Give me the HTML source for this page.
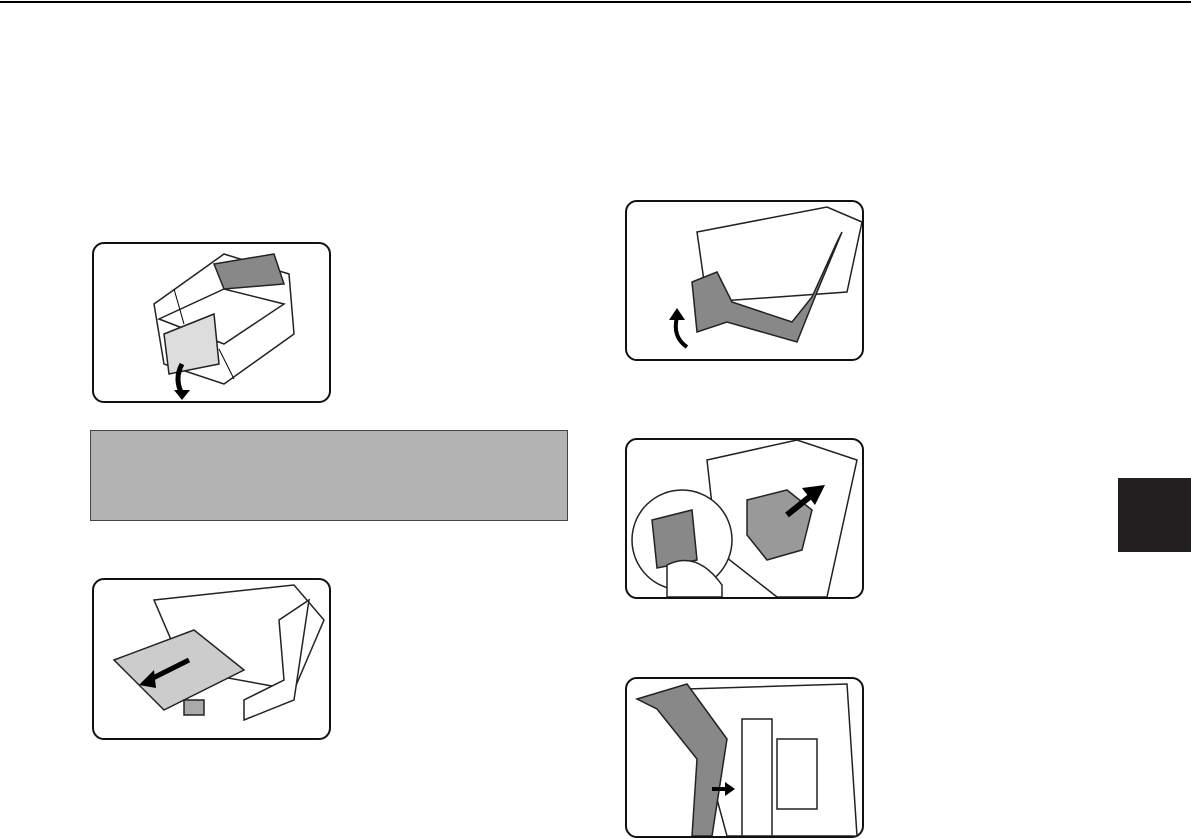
<!DOCTYPE html>
<html><head><meta charset="utf-8"><style>
html,body{margin:0;padding:0;background:#fff;width:1191px;height:839px;overflow:hidden;position:relative;font-family:"Liberation Sans",sans-serif}
.rule{position:absolute;left:0;top:1px;width:1191px;height:2px;background:#000}
.box{position:absolute;border:2px solid #111;border-radius:12px;background:#fff;overflow:hidden}
.gray{position:absolute;left:90px;top:430px;width:476px;height:89px;background:#b3b3b3;border:1px solid #444}
.tab{position:absolute;left:1118px;top:478px;width:73px;height:74px;background:#231f20}
svg{position:absolute;left:0;top:0}
</style></head><body>
<div class="rule"></div>

<div class="box" style="left:92px;top:242px;width:235px;height:157px">
<svg width="235" height="157"><g fill="#fff" stroke="#222" stroke-width="1.5">
<polygon points="60,60 130,10 195,30 200,90 130,140 70,120"/>
<polygon points="65,75 130,45 190,60 130,100"/>
<polygon points="70,90 120,70 125,120 75,130" fill="#ddd"/>
<polygon points="120,20 180,10 190,40 130,45" fill="#888"/>
</g>
<path d="M88,120 Q80,135 88,150" stroke="#000" stroke-width="5" fill="none"/>
<polygon points="80,146 96,146 88,156" fill="#000"/>
<line x1="80" y1="45" x2="90" y2="80" stroke="#000"/>
<line x1="125" y1="105" x2="140" y2="135" stroke="#000"/></svg>
</div>

<div class="gray"></div>

<div class="box" style="left:92px;top:578px;width:235px;height:158px">
<svg width="235" height="158"><g stroke="#222" stroke-width="1.5">
<polygon points="60,20 200,5 230,40 200,110 90,90" fill="#fff"/>
<polygon points="20,80 100,50 150,90 70,130" fill="#ccc"/>
<polygon points="185,40 215,20 200,120 150,140 150,120 190,100" fill="#fff"/>
<rect x="90" y="120" width="20" height="15" fill="#aaa"/>
</g>
<line x1="95" y1="80" x2="55" y2="100" stroke="#000" stroke-width="5"/>
<polygon points="45,105 60,90 62,108" fill="#000"/></svg>
</div>

<div class="box" style="left:625px;top:200px;width:235px;height:157px">
<svg width="235" height="157"><g stroke="#222" stroke-width="1.5">
<polygon points="70,30 200,5 235,20 220,90 80,100" fill="#fff"/>
<polygon points="65,80 70,130 100,120 170,140 190,90 215,30 210,40 185,95 165,120 105,100 90,70" fill="#888"/>
</g>
<path d="M60,145 Q45,135 50,115" stroke="#000" stroke-width="4" fill="none"/>
<polygon points="42,118 58,118 50,106" fill="#000"/></svg>
</div>

<div class="box" style="left:625px;top:438px;width:235px;height:157px">
<svg width="235" height="157"><g stroke="#222" stroke-width="1.5">
<polygon points="80,20 170,0 230,20 200,157 150,157 90,110" fill="#fff"/>
<polygon points="120,60 160,50 185,70 175,110 140,120 120,95" fill="#999"/>
<circle cx="55" cy="100" r="50" fill="#fff"/>
<polygon points="25,80 65,70 70,120 30,128" fill="#888"/>
<path d="M40,125 Q70,110 95,145 L95,157 L40,157Z" fill="#fff"/>
</g>
<line x1="160" y1="75" x2="185" y2="55" stroke="#000" stroke-width="6"/>
<polygon points="175,48 198,45 188,65" fill="#000"/></svg>
</div>

<div class="box" style="left:625px;top:677px;width:235px;height:157px">
<svg width="235" height="157"><g stroke="#222" stroke-width="1.5">
<polygon points="60,10 220,5 230,157 100,157" fill="#fff"/>
<polygon points="10,20 60,5 100,60 85,157 65,157 70,80 30,30" fill="#888"/>
<rect x="115" y="40" width="30" height="117" fill="#fff"/>
<rect x="150" y="60" width="40" height="70" fill="#fff"/>
</g>
<line x1="85" y1="110" x2="100" y2="110" stroke="#000" stroke-width="4"/>
<polygon points="98,103 108,110 98,117" fill="#000"/></svg>
</div>

<div class="tab"></div>
</body></html>
